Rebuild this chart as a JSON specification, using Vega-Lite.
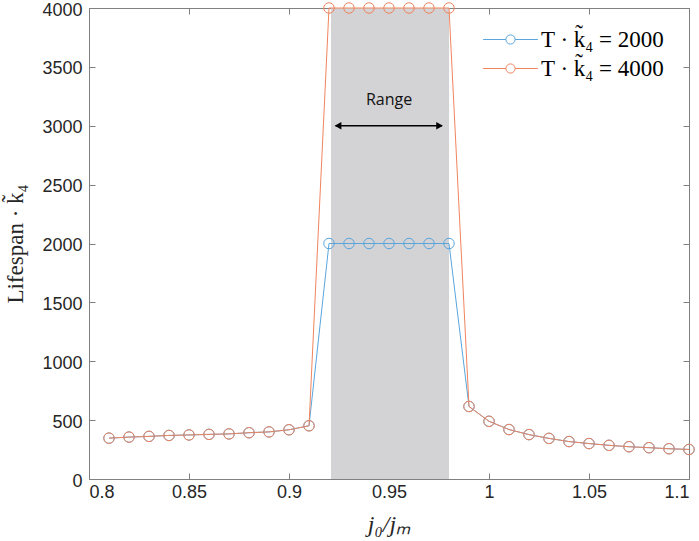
{
  "$schema": "https://vega.github.io/schema/vega-lite/v6.json",
  "width": 600,
  "height": 471,
  "autosize": {"type": "none"},
  "padding": {"left": 89, "top": 8, "right": 10, "bottom": 62},
  "background": "white",
  "view": {"stroke": "#808080", "strokeWidth": 1},
  "datasets": {
    "lifespan": [
      {"x": 0.81, "y": 347, "series": "T · k̃₄ = 2000"},
      {"x": 0.82, "y": 356, "series": "T · k̃₄ = 2000"},
      {"x": 0.83, "y": 362, "series": "T · k̃₄ = 2000"},
      {"x": 0.84, "y": 370, "series": "T · k̃₄ = 2000"},
      {"x": 0.85, "y": 374, "series": "T · k̃₄ = 2000"},
      {"x": 0.86, "y": 379, "series": "T · k̃₄ = 2000"},
      {"x": 0.87, "y": 383, "series": "T · k̃₄ = 2000"},
      {"x": 0.88, "y": 393, "series": "T · k̃₄ = 2000"},
      {"x": 0.89, "y": 400, "series": "T · k̃₄ = 2000"},
      {"x": 0.90, "y": 418, "series": "T · k̃₄ = 2000"},
      {"x": 0.91, "y": 452, "series": "T · k̃₄ = 2000"},
      {"x": 0.92, "y": 2000, "series": "T · k̃₄ = 2000"},
      {"x": 0.93, "y": 2000, "series": "T · k̃₄ = 2000"},
      {"x": 0.94, "y": 2000, "series": "T · k̃₄ = 2000"},
      {"x": 0.95, "y": 2000, "series": "T · k̃₄ = 2000"},
      {"x": 0.96, "y": 2000, "series": "T · k̃₄ = 2000"},
      {"x": 0.97, "y": 2000, "series": "T · k̃₄ = 2000"},
      {"x": 0.98, "y": 2000, "series": "T · k̃₄ = 2000"},
      {"x": 0.99, "y": 616, "series": "T · k̃₄ = 2000"},
      {"x": 1.00, "y": 490, "series": "T · k̃₄ = 2000"},
      {"x": 1.01, "y": 420, "series": "T · k̃₄ = 2000"},
      {"x": 1.02, "y": 377, "series": "T · k̃₄ = 2000"},
      {"x": 1.03, "y": 345, "series": "T · k̃₄ = 2000"},
      {"x": 1.04, "y": 318, "series": "T · k̃₄ = 2000"},
      {"x": 1.05, "y": 301, "series": "T · k̃₄ = 2000"},
      {"x": 1.06, "y": 286, "series": "T · k̃₄ = 2000"},
      {"x": 1.07, "y": 274, "series": "T · k̃₄ = 2000"},
      {"x": 1.08, "y": 266, "series": "T · k̃₄ = 2000"},
      {"x": 1.09, "y": 257, "series": "T · k̃₄ = 2000"},
      {"x": 1.10, "y": 251, "series": "T · k̃₄ = 2000"},
      {"x": 0.81, "y": 347, "series": "T · k̃₄ = 4000"},
      {"x": 0.82, "y": 356, "series": "T · k̃₄ = 4000"},
      {"x": 0.83, "y": 362, "series": "T · k̃₄ = 4000"},
      {"x": 0.84, "y": 370, "series": "T · k̃₄ = 4000"},
      {"x": 0.85, "y": 374, "series": "T · k̃₄ = 4000"},
      {"x": 0.86, "y": 379, "series": "T · k̃₄ = 4000"},
      {"x": 0.87, "y": 383, "series": "T · k̃₄ = 4000"},
      {"x": 0.88, "y": 393, "series": "T · k̃₄ = 4000"},
      {"x": 0.89, "y": 400, "series": "T · k̃₄ = 4000"},
      {"x": 0.90, "y": 418, "series": "T · k̃₄ = 4000"},
      {"x": 0.91, "y": 452, "series": "T · k̃₄ = 4000"},
      {"x": 0.92, "y": 4000, "series": "T · k̃₄ = 4000"},
      {"x": 0.93, "y": 4000, "series": "T · k̃₄ = 4000"},
      {"x": 0.94, "y": 4000, "series": "T · k̃₄ = 4000"},
      {"x": 0.95, "y": 4000, "series": "T · k̃₄ = 4000"},
      {"x": 0.96, "y": 4000, "series": "T · k̃₄ = 4000"},
      {"x": 0.97, "y": 4000, "series": "T · k̃₄ = 4000"},
      {"x": 0.98, "y": 4000, "series": "T · k̃₄ = 4000"},
      {"x": 0.99, "y": 616, "series": "T · k̃₄ = 4000"},
      {"x": 1.00, "y": 490, "series": "T · k̃₄ = 4000"},
      {"x": 1.01, "y": 420, "series": "T · k̃₄ = 4000"},
      {"x": 1.02, "y": 377, "series": "T · k̃₄ = 4000"},
      {"x": 1.03, "y": 345, "series": "T · k̃₄ = 4000"},
      {"x": 1.04, "y": 318, "series": "T · k̃₄ = 4000"},
      {"x": 1.05, "y": 301, "series": "T · k̃₄ = 4000"},
      {"x": 1.06, "y": 286, "series": "T · k̃₄ = 4000"},
      {"x": 1.07, "y": 274, "series": "T · k̃₄ = 4000"},
      {"x": 1.08, "y": 266, "series": "T · k̃₄ = 4000"},
      {"x": 1.09, "y": 257, "series": "T · k̃₄ = 4000"},
      {"x": 1.10, "y": 251, "series": "T · k̃₄ = 4000"}
    ]
  },
  "resolve": {"axis": {"x": "independent", "y": "independent"}},
  "layer": [
    {
      "data": {"values": [{"start": 0.921, "end": 0.98}]},
      "mark": {"type": "rect", "color": "#d3d2d4"},
      "encoding": {
        "x": {"field": "start", "type": "quantitative", "scale": {"domain": [0.8, 1.1], "nice": false}, "axis": null},
        "x2": {"field": "end"}
      }
    },
    {
      "data": {"name": "lifespan"},
      "mark": {"type": "line", "strokeWidth": 1},
      "encoding": {
        "x": {
          "field": "x", "type": "quantitative",
          "scale": {"domain": [0.8, 1.1], "nice": false},
          "axis": {
            "orient": "bottom",
            "values": [0.8, 0.85, 0.9, 0.95, 1, 1.05, 1.1],
            "format": "~g",
            "title": "j₀/jₘ",
            "grid": false,
            "tickSize": -6,
            "labelPadding": 10,
            "titleY": 33,
            "titleBaseline": "top",
            "domainColor": "#808080",
            "tickColor": "#808080",
            "labelFont": "Liberation Sans",
            "labelFontSize": 18,
            "labelColor": "#262626",
            "titleFont": "Liberation Serif",
            "titleFontStyle": "italic",
            "titleFontWeight": "normal",
            "titleFontSize": 24,
            "titleColor": "#262626"
          }
        },
        "y": {
          "field": "y", "type": "quantitative",
          "scale": {"domain": [0, 4000], "nice": false},
          "axis": {
            "orient": "left",
            "values": [0, 500, 1000, 1500, 2000, 2500, 3000, 3500, 4000],
            "format": "d",
            "title": "Lifespan · k̃₄",
            "grid": false,
            "tickSize": -6,
            "labelPadding": 13,
            "labelOffset": 2,
            "titlePadding": 14,
            "domainColor": "#808080",
            "tickColor": "#808080",
            "labelFont": "Liberation Sans",
            "labelFontSize": 18,
            "labelColor": "#262626",
            "titleFont": "Liberation Serif",
            "titleFontWeight": "normal",
            "titleFontSize": 23,
            "titleColor": "#262626"
          }
        },
        "color": {
          "field": "series", "type": "nominal",
          "scale": {"range": ["#5aa5dc", "#f0845e"]},
          "legend": {
            "title": null,
            "orient": "none",
            "legendX": 410,
            "legendY": 20,
            "symbolType": "M-2.5,0L-0.42,0M0.42,0L2.5,0M0.42,0A0.42,0.42,0,1,1,-0.42,0A0.42,0.42,0,1,1,0.42,0",
            "symbolSize": 480,
            "symbolStrokeWidth": 1,
            "symbolFillColor": "transparent",
            "labelFont": "Liberation Serif",
            "labelFontSize": 23,
            "labelColor": "#000000",
            "labelOffset": 19,
            "rowPadding": 5
          }
        },
        "detail": {"field": "series"}
      }
    },
    {
      "data": {"name": "lifespan"},
      "mark": {"type": "point", "shape": "circle", "filled": false, "size": 110, "strokeWidth": 1, "opacity": 1},
      "encoding": {
        "x": {"field": "x", "type": "quantitative", "axis": null},
        "y": {"field": "y", "type": "quantitative", "axis": null},
        "color": {"field": "series", "type": "nominal", "legend": null}
      }
    },
    {
      "data": {"values": [{"from": 0.9233, "to": 0.9765, "y": 3000}]},
      "mark": {"type": "rule", "color": "black", "strokeWidth": 1.5},
      "encoding": {
        "x": {"field": "from", "type": "quantitative", "axis": null},
        "x2": {"field": "to"},
        "y": {"field": "y", "type": "quantitative", "axis": null}
      }
    },
    {
      "data": {"values": [{"x": 0.9245, "y": 3000, "shape": "triangle-left"}, {"x": 0.9753, "y": 3000, "shape": "triangle-right"}]},
      "mark": {"type": "point", "filled": true, "color": "black", "size": 60, "opacity": 1},
      "encoding": {
        "x": {"field": "x", "type": "quantitative", "axis": null},
        "y": {"field": "y", "type": "quantitative", "axis": null},
        "shape": {"field": "shape", "type": "nominal", "scale": null, "legend": null}
      }
    },
    {
      "data": {"values": [{"x": 0.95, "y": 3220, "label": "Range"}]},
      "mark": {"type": "text", "font": "Open Sans", "fontSize": 16, "color": "#111111"},
      "encoding": {
        "x": {"field": "x", "type": "quantitative", "axis": null},
        "y": {"field": "y", "type": "quantitative", "axis": null},
        "text": {"field": "label"}
      }
    },
    {
      "data": {"name": "lifespan"},
      "mark": {"type": "point", "opacity": 0},
      "encoding": {
        "x": {
          "field": "x", "type": "quantitative",
          "axis": {"orient": "top", "values": [0.8, 0.85, 0.9, 0.95, 1, 1.05, 1.1], "labels": false, "title": null, "grid": false, "tickSize": -6, "domainColor": "#808080", "tickColor": "#808080"}
        },
        "y": {
          "field": "y", "type": "quantitative",
          "axis": {"orient": "right", "values": [0, 500, 1000, 1500, 2000, 2500, 3000, 3500, 4000], "labels": false, "title": null, "grid": false, "tickSize": -6, "domainColor": "#808080", "tickColor": "#808080"}
        }
      }
    }
  ]
}
